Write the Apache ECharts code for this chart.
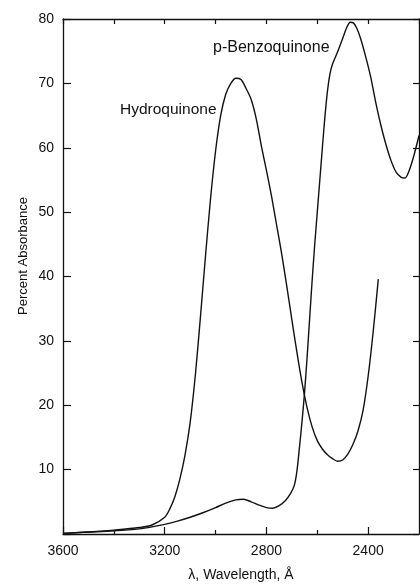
<!DOCTYPE html>
<html>
<head>
<meta charset="utf-8">
<script src="https://cdn.jsdelivr.net/npm/echarts@6/dist/echarts.min.js"></script>
<style>html,body{margin:0;padding:0;background:#fff}#c{width:420px;height:587px}</style>
</head>
<body>
<div id="c"></div>
<script>
// Hydroquinone spectrum (wavelength in Å, percent absorbance)
const hydroWavelength = [3600,3500,3400,3300,3250,3200,3180,3160,3140,3120,3100,3080,3060,3040,3020,3000,2980,2960,2940,2920,2900,2880,2860,2840,2820,2800,2780,2760,2740,2720,2700,2680,2660,2640,2620,2600,2580,2560,2540,2520,2500,2480,2460,2440,2420,2400,2380,2360];
const hydroAbsorb     = [0.1,0.3,0.6,1.0,1.4,2.6,3.9,5.8,8.6,12.3,17.3,24.5,33.5,43.0,52.0,59.5,65.0,68.3,70.0,70.8,70.6,69.2,67.5,64.5,60.3,56.5,52.5,48.0,43.5,38.5,33.3,28.2,23.5,19.6,16.6,14.5,13.2,12.3,11.7,11.3,11.5,12.4,13.9,16.0,19.2,24.5,31.5,39.6];
// p-Benzoquinone spectrum
const benzoWavelength = [3600,3500,3400,3300,3250,3200,3150,3100,3050,3000,2960,2920,2890,2860,2830,2800,2775,2750,2725,2705,2690,2680,2670,2660,2650,2640,2630,2620,2610,2600,2590,2580,2570,2560,2550,2540,2520,2500,2485,2470,2458,2445,2430,2410,2390,2370,2350,2330,2310,2290,2270,2255,2240,2220,2200];
const benzoAbsorb     = [0.1,0.3,0.5,0.8,1.1,1.5,2.0,2.6,3.3,4.1,4.8,5.3,5.4,5.0,4.5,4.1,4.0,4.4,5.2,6.3,7.6,9.8,13.5,17.5,22.0,27.5,33.5,39.5,45.0,50.0,55.0,60.0,64.8,68.8,71.5,73.0,74.9,77.0,78.6,79.5,79.4,78.6,77.0,74.2,71.0,67.0,63.5,60.5,58.0,56.2,55.4,55.3,56.3,58.8,61.9];
// axis ticks
const xLabelTicks = [2400,2800,3200,3600];
const xMinorTicks = [2600,3000,3400];
const seriesNames = ['Hydroquinone','p-Benzoquinone'];

const ink = '#111';
const font = 'Liberation Sans, Arial, sans-serif';
const chart = echarts.init(document.getElementById('c'));
const pair = (xs, ys) => xs.map((x, i) => [x, ys[i]]);
const baseX = {type:'value', min:2200, max:3600, interval:200, inverse:true, splitLine:{show:false}};
chart.setOption({
  animation:false,
  backgroundColor:'#fff',
  grid:{left:63, right:1, top:19, bottom:45},
  xAxis:[
    Object.assign({}, baseX, {position:'bottom',
      name:'λ, Wavelength, Å', nameLocation:'middle', nameGap:34,
      nameTextStyle:{color:ink, fontSize:14, fontFamily:font},
      axisLine:{lineStyle:{color:ink, width:1.3}},
      axisTick:{inside:true, length:7, customValues:xLabelTicks, lineStyle:{color:ink, width:1.2}},
      axisLabel:{customValues:xLabelTicks, color:ink, fontSize:14, fontFamily:font, margin:10, formatter:v => String(v)}}),
    Object.assign({}, baseX, {position:'bottom',
      axisLine:{show:false},
      axisTick:{inside:true, length:4, customValues:xMinorTicks, lineStyle:{color:ink, width:1.2}},
      axisLabel:{show:false}}),
    Object.assign({}, baseX, {position:'top',
      axisLine:{lineStyle:{color:ink, width:1.3}},
      axisTick:{inside:true, length:5, lineStyle:{color:ink, width:1.2}},
      axisLabel:{show:false}})
  ],
  yAxis:[
    {type:'value', min:0, max:80, interval:10, position:'left', splitLine:{show:false},
      axisLine:{show:true, lineStyle:{color:ink, width:1.3}},
      axisTick:{inside:true, length:8, lineStyle:{color:ink, width:1.2}},
      axisLabel:{color:ink, fontSize:14, fontFamily:font, margin:9, formatter:v => v === 0 ? '' : String(v)}},
    {type:'value', min:0, max:80, interval:10, position:'right', splitLine:{show:false},
      axisLine:{show:true, lineStyle:{color:ink, width:1.3}},
      axisTick:{inside:true, length:6, lineStyle:{color:ink, width:1.2}},
      axisLabel:{show:false}}
  ],
  graphic:[
    {type:'text', x:23, y:256, rotation:Math.PI/2,
      style:{text:'Percent Absorbance', fill:ink, fontSize:13, fontFamily:font, align:'center', verticalAlign:'middle'}},
    {type:'text', x:120, y:110,
      style:{text:seriesNames[0], fill:ink, fontSize:15.5, fontFamily:font, align:'left', verticalAlign:'middle'}},
    {type:'text', x:213, y:48,
      style:{text:seriesNames[1], fill:ink, fontSize:16, fontFamily:font, align:'left', verticalAlign:'middle'}}
  ],
  series:[
    {name:seriesNames[0], type:'line', xAxisIndex:0, yAxisIndex:0, data:pair(hydroWavelength, hydroAbsorb),
      smooth:0.3, showSymbol:false, symbol:'none', lineStyle:{color:ink, width:1.4}},
    {name:seriesNames[1], type:'line', xAxisIndex:0, yAxisIndex:0, data:pair(benzoWavelength, benzoAbsorb),
      smooth:0.3, showSymbol:false, symbol:'none', lineStyle:{color:ink, width:1.4}}
  ]
});
</script>
</body>
</html>
